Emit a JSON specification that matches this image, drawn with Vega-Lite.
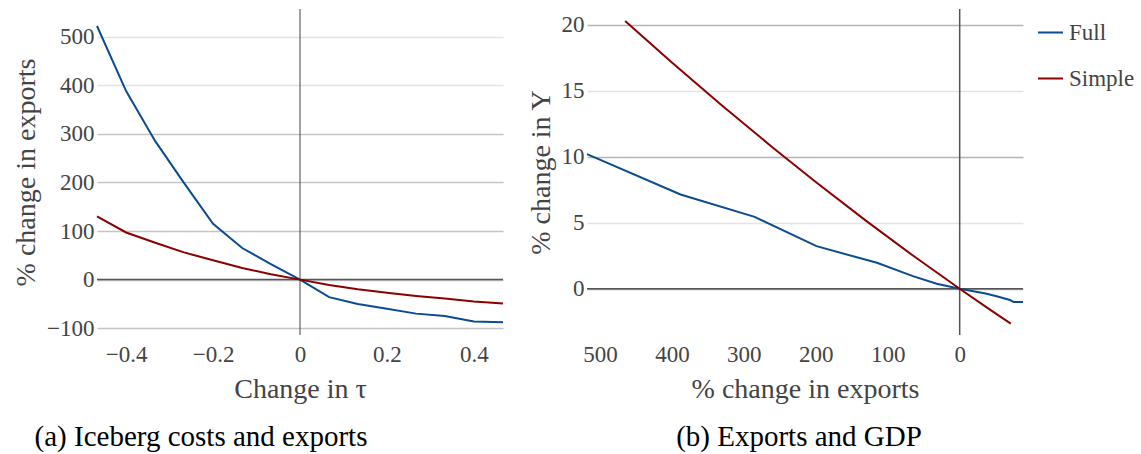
{
  "$schema": "https://vega.github.io/schema/vega-lite/v6.json",
  "background": "white",
  "padding": {"left": 12, "top": 8, "right": 0, "bottom": 5},
  "config": {
    "view": {"stroke": null},
    "font": "Liberation Serif",
    "axis": {
      "labelFont": "Liberation Serif",
      "titleFont": "Liberation Serif",
      "labelFontSize": 23,
      "titleFontSize": 28,
      "labelColor": "#444444",
      "titleColor": "#444444",
      "titleFontWeight": "normal",
      "domain": false,
      "ticks": false
    },
    "title": {"font": "Liberation Serif", "fontSize": 29, "fontWeight": "normal", "color": "#000000", "orient": "bottom", "offset": 20},
    "legend": {"labelFont": "Liberation Serif", "labelFontSize": 23, "labelColor": "#444444"}
  },
  "datasets": {
    "iceberg": [
      {"model": "Full", "tau": -0.467, "exports": 522},
      {"model": "Full", "tau": -0.4, "exports": 388},
      {"model": "Full", "tau": -0.333, "exports": 285},
      {"model": "Full", "tau": -0.267, "exports": 199},
      {"model": "Full", "tau": -0.2, "exports": 115},
      {"model": "Full", "tau": -0.133, "exports": 65},
      {"model": "Full", "tau": -0.067, "exports": 32},
      {"model": "Full", "tau": 0, "exports": 0},
      {"model": "Full", "tau": 0.067, "exports": -36},
      {"model": "Full", "tau": 0.133, "exports": -50},
      {"model": "Full", "tau": 0.2, "exports": -60},
      {"model": "Full", "tau": 0.267, "exports": -70},
      {"model": "Full", "tau": 0.333, "exports": -75},
      {"model": "Full", "tau": 0.4, "exports": -86},
      {"model": "Full", "tau": 0.467, "exports": -88},
      {"model": "Simple", "tau": -0.467, "exports": 130},
      {"model": "Simple", "tau": -0.4, "exports": 97},
      {"model": "Simple", "tau": -0.333, "exports": 76},
      {"model": "Simple", "tau": -0.267, "exports": 56},
      {"model": "Simple", "tau": -0.2, "exports": 40},
      {"model": "Simple", "tau": -0.133, "exports": 24},
      {"model": "Simple", "tau": -0.067, "exports": 11},
      {"model": "Simple", "tau": 0, "exports": 0},
      {"model": "Simple", "tau": 0.067, "exports": -11},
      {"model": "Simple", "tau": 0.133, "exports": -20},
      {"model": "Simple", "tau": 0.2, "exports": -27},
      {"model": "Simple", "tau": 0.267, "exports": -33.5},
      {"model": "Simple", "tau": 0.333, "exports": -39},
      {"model": "Simple", "tau": 0.4, "exports": -45},
      {"model": "Simple", "tau": 0.467, "exports": -49}
    ],
    "gdp": [
      {"model": "Full", "exports": 518, "gdp": 10.2},
      {"model": "Full", "exports": 388, "gdp": 7.15},
      {"model": "Full", "exports": 285, "gdp": 5.45},
      {"model": "Full", "exports": 199, "gdp": 3.23},
      {"model": "Full", "exports": 115, "gdp": 1.97},
      {"model": "Full", "exports": 65, "gdp": 0.96},
      {"model": "Full", "exports": 32, "gdp": 0.38},
      {"model": "Full", "exports": 0, "gdp": 0},
      {"model": "Full", "exports": -36, "gdp": -0.35},
      {"model": "Full", "exports": -50, "gdp": -0.55},
      {"model": "Full", "exports": -60, "gdp": -0.7},
      {"model": "Full", "exports": -70, "gdp": -0.85},
      {"model": "Full", "exports": -75, "gdp": -1.0},
      {"model": "Full", "exports": -86, "gdp": -1.0},
      {"model": "Full", "exports": -88, "gdp": -1.0},
      {"model": "Simple", "exports": 465, "gdp": 20.3},
      {"model": "Simple", "exports": 400, "gdp": 17.15},
      {"model": "Simple", "exports": 330, "gdp": 13.87},
      {"model": "Simple", "exports": 260, "gdp": 10.71},
      {"model": "Simple", "exports": 200, "gdp": 8.09},
      {"model": "Simple", "exports": 130, "gdp": 5.15},
      {"model": "Simple", "exports": 65, "gdp": 2.52},
      {"model": "Simple", "exports": 0, "gdp": 0},
      {"model": "Simple", "exports": -40, "gdp": -1.5},
      {"model": "Simple", "exports": -71, "gdp": -2.64}
    ],
    "zero": [{"zero": 0}]
  },
  "hconcat": [
    {
      "width": 406,
      "height": 326,
      "title": {"text": "(a) Iceberg costs and exports", "dx": -99},
      "layer": [
        {
          "data": {"name": "zero"},
          "mark": {"type": "rule", "color": "#555555", "strokeWidth": 1.5},
          "encoding": {"y": {"field": "zero", "type": "quantitative", "title": "% change in exports", "scale": {"domain": [-114, 557], "nice": false, "zero": false},
            "axis": {"values": [-100, 0, 100, 200, 300, 400, 500], "format": "d", "labelPadding": 3, "titlePadding": 6,
                "gridColor": {"condition": {"test": "datum.value >= 400", "value": "#e3e3e3"}, "value": "#c4c4c4"}, "gridWidth": 1.5}}}
        },
        {
          "data": {"name": "zero"},
          "mark": {"type": "rule", "color": "#444444", "strokeWidth": 1},
          "encoding": {"x": {"field": "zero", "type": "quantitative", "title": "Change in τ", "scale": {"domain": [-0.467, 0.467], "nice": false, "zero": false},
            "axis": {"values": [-0.4, -0.2, 0, 0.2, 0.4], "format": "~r", "grid": false, "labelPadding": 8, "titlePadding": 9}}}
        },
        {
          "data": {"name": "iceberg"},
          "mark": {"type": "line", "strokeWidth": 2},
          "encoding": {
            "x": {"field": "tau", "type": "quantitative", "title": "Change in τ",
              "scale": {"domain": [-0.467, 0.467], "nice": false, "zero": false},
              "axis": {"values": [-0.4, -0.2, 0, 0.2, 0.4], "format": "~r", "grid": false, "labelPadding": 8, "titlePadding": 9}},
            "y": {"field": "exports", "type": "quantitative", "title": "% change in exports",
              "scale": {"domain": [-114, 557], "nice": false, "zero": false},
              "axis": {"values": [-100, 0, 100, 200, 300, 400, 500], "format": "d", "labelPadding": 3, "titlePadding": 6,
                "gridColor": {"condition": {"test": "datum.value >= 400", "value": "#e3e3e3"}, "value": "#c4c4c4"}, "gridWidth": 1.5}},
            "color": {"field": "model", "type": "nominal", "scale": {"domain": ["Full", "Simple"], "range": ["#0a4b91", "#8b0000"]},
              "legend": {"title": null, "symbolType": "stroke", "symbolSize": 625, "symbolStrokeWidth": 2, "rowPadding": 20, "labelOffset": 5, "offset": 0, "padding": 10}}
          }
        }
      ]
    },
    {
      "width": 436,
      "height": 326,
      "title": {"text": "(b) Exports and GDP", "dx": -6},
      "layer": [
        {
          "data": {"name": "zero"},
          "mark": {"type": "rule", "color": "#555555", "strokeWidth": 1.5},
          "encoding": {"y": {"field": "zero", "type": "quantitative", "title": "% change in Y", "scale": {"domain": [-3.5, 21.2], "nice": false, "zero": false},
            "axis": {"values": [0, 5, 10, 15, 20], "format": "d", "labelPadding": 3, "titlePadding": 6,
                "gridColor": {"condition": {"test": "datum.value % 10 === 0", "value": "#b4b4b4"}, "value": "#e3e3e3"}, "gridWidth": 1.5}}}
        },
        {
          "data": {"name": "zero"},
          "mark": {"type": "rule", "color": "#555555", "strokeWidth": 1.5},
          "encoding": {"x": {"field": "zero", "type": "quantitative", "title": "% change in exports", "scale": {"domain": [-88, 518], "reverse": true, "nice": false, "zero": false},
            "axis": {"values": [500, 400, 300, 200, 100, 0], "format": "d", "grid": false, "labelPadding": 8, "titlePadding": 9}}}
        },
        {
          "data": {"name": "gdp"},
          "mark": {"type": "line", "strokeWidth": 2},
          "encoding": {
            "x": {"field": "exports", "type": "quantitative", "title": "% change in exports",
              "scale": {"domain": [-88, 518], "reverse": true, "nice": false, "zero": false},
              "axis": {"values": [500, 400, 300, 200, 100, 0], "format": "d", "grid": false, "labelPadding": 8, "titlePadding": 9}},
            "y": {"field": "gdp", "type": "quantitative", "title": "% change in Y",
              "scale": {"domain": [-3.5, 21.2], "nice": false, "zero": false},
              "axis": {"values": [0, 5, 10, 15, 20], "format": "d", "labelPadding": 3, "titlePadding": 6,
                "gridColor": {"condition": {"test": "datum.value % 10 === 0", "value": "#b4b4b4"}, "value": "#e3e3e3"}, "gridWidth": 1.5}},
            "color": {"field": "model", "type": "nominal", "scale": {"domain": ["Full", "Simple"], "range": ["#0a4b91", "#8b0000"]},
              "legend": {"title": null, "symbolType": "stroke", "symbolSize": 625, "symbolStrokeWidth": 2, "rowPadding": 20, "labelOffset": 5, "offset": 0, "padding": 10}}
          }
        }
      ]
    }
  ],
  "spacing": 20,
  "resolve": {"scale": {"color": "shared"}}
}
